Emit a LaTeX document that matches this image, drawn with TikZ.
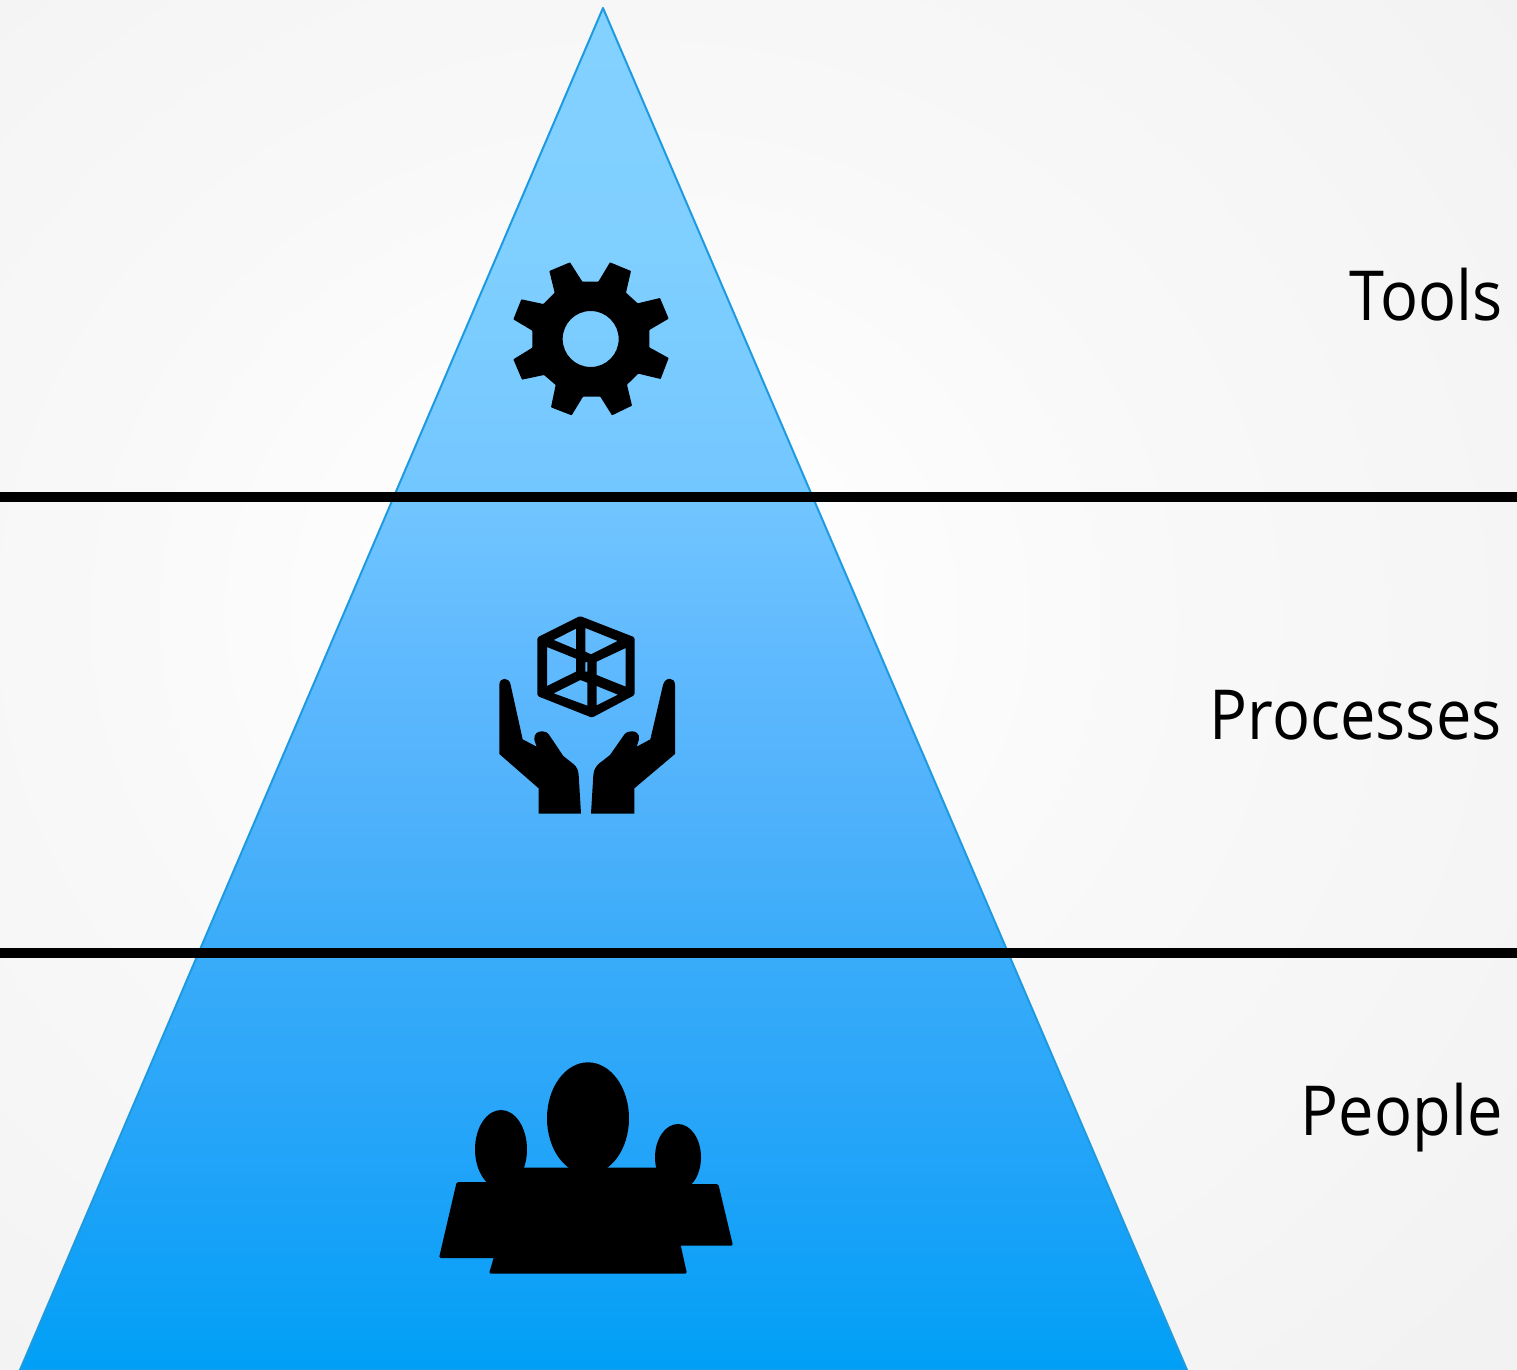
\documentclass[tikz,border=0pt]{standalone}
\usepackage{fontspec}
\setmainfont[FakeStretch=0.915]{Open Sans}
\pgfdeclareradialshading{bgshade}{\pgfpoint{-5bp}{3bp}}{color(0bp)=(white); color(6bp)=(white!99.5!black); color(17.5bp)=(white!97.5!black); color(27.5bp)=(white!96.3!black); color(37.5bp)=(white!94.8!black); color(100bp)=(white!94.8!black)}
\definecolor{edgeblue}{HTML}{1E9BE0}
\definecolor{c0}{HTML}{00A0F6}
\definecolor{c1}{HTML}{14A1F8}
\definecolor{c2}{HTML}{2AA6F9}
\definecolor{c3}{HTML}{3AACF9}
\definecolor{c4}{HTML}{4DB1FB}
\definecolor{c5}{HTML}{61BAFE}
\definecolor{c6}{HTML}{73C7FF}
\definecolor{c7}{HTML}{7FCFFF}
\definecolor{c8}{HTML}{83D1FF}
\pgfdeclareverticalshading{pyr}{100bp}{color(0bp)=(c0); color(25bp)=(c0); color(29.5bp)=(c1); color(35bp)=(c2); color(40.5bp)=(c3); color(45bp)=(c4); color(51.5bp)=(c5); color(57.5bp)=(c6); color(66bp)=(c7); color(75bp)=(c8); color(100bp)=(c8)}
\tikzset{
  iconfill/.style={fill=black,draw=none},
  rule/.style={line width=5pt,draw=black},
  lbl/.style={anchor=base east,inner sep=0pt,font=\fontsize{34.5}{40}\selectfont},
}
\begin{document}
\begin{tikzpicture}[x=0.5pt,y=-0.5pt]
\useasboundingbox (0,0) rectangle (1517,1370);
\shade[shading=bgshade] (0,0) rectangle (1517,1370);
\shade[shading=pyr,draw=edgeblue,line width=1pt,line join=round] (603,8) -- (1187,1370) -- (20,1370) -- cycle;
\coordinate (l1a) at (0,496.5); \coordinate (l1b) at (1517,496.5);
\coordinate (l2a) at (0,953); \coordinate (l2b) at (1517,953);
\draw[rule] (l1a) -- (l1b);
\draw[rule] (l2a) -- (l2b);
% gear
\begin{scope}[shift={(490,240)},x=0.16667pt,y=-0.16667pt]
\fill[iconfill,even odd rule,rounded corners=0.3pt] (178,93)--(240,67)--(277,125)--(325,125)--(360,67)--(423,93)--(408,158)--(443,190)--(510,174)--(536,236)--(478,270)--(478,322)--(536,354)--(512,417)--(445,401)--(411,434)--(426,497)--(366,526)--(331,470)--(279,470)--(245,526)--(183,502)--(197,435)--(162,405)--(96,419)--(70,358)--(127,323)--(127,272)--(70,238)--(94,178)--(160,192)--(194,158)--cycle (302,297) circle [x radius=84,y radius=84];
\end{scope}
% hands and cube
\begin{scope}[shift={(480,600)},x=0.16667pt,y=-0.16667pt]
\fill[iconfill] (58,255) .. controls (58,230) and (88,230) .. (92,255) -- (128,418) -- (170,440) -- (163,420) .. controls (160,400) and (175,393) .. (188,394) .. controls (197,394) and (203,398) .. (207,404) -- (250,468) -- (280,492) .. controls (290,500) and (295,510) .. (296,525) -- (303,641) -- (176,641) -- (176,565) -- (58,462) -- cycle;
\fill[iconfill] (585,255) .. controls (585,230) and (555,230) .. (549,255) -- (511,418) -- (470,440) -- (477,418) .. controls (480,400) and (465,393) .. (455,394) .. controls (445,394) and (438,397) .. (434,402) -- (390,465) -- (358,490) .. controls (348,498) and (341,510) .. (340,525) -- (333,641) -- (463,641) -- (463,565) -- (585,462) -- cycle;
\fill[iconfill,even odd rule] [rounded corners=0.8pt] (300,48)--(464,112)--(464,285)--(336,353)--(172,288)--(172,112)--cycle [sharp corners]
 (221,120)--(288,86)--(288,148)--cycle
 (316,84)--(413,123)--(333,163)--(316,155)--cycle
 (201,141)--(288,176)--(288,215)--(201,258)--cycle
 (316,186)--(322,186)--(322,215)--(316,215)--cycle
 (350,185)--(437,144)--(437,260)--(350,225)--cycle
 (221,280)--(301,240)--(322,248)--(322,317)--cycle
 (350,258)--(414,284)--(350,316)--cycle;
\end{scope}
% people
\begin{scope}[shift={(420,1050)},x=0.16667pt,y=-0.16667pt]
\fill[iconfill] (504,205) ellipse [x radius=123,y radius=168];
\fill[iconfill] (243,298) ellipse [x radius=78,y radius=118];
\fill[iconfill] (774,322) ellipse [x radius=69,y radius=100];
\fill[iconfill,rounded corners=0.8pt] (110,396)--(330,396)--(330,624)--(57,624)--cycle;
\fill[iconfill,rounded corners=0.8pt] (700,402)--(895,402)--(939,587)--(700,587)--cycle;
\fill[iconfill,rounded corners=0.8pt] (300,353)--(730,353)--(801,671)--(207,671)--cycle;
\end{scope}
\node[lbl] (tools) at (1503,321) {Tools};
\node[lbl] (processes) at (1502,739) {Processes};
\node[lbl] (people) at (1503,1135) {People};
\end{tikzpicture}
\end{document}
